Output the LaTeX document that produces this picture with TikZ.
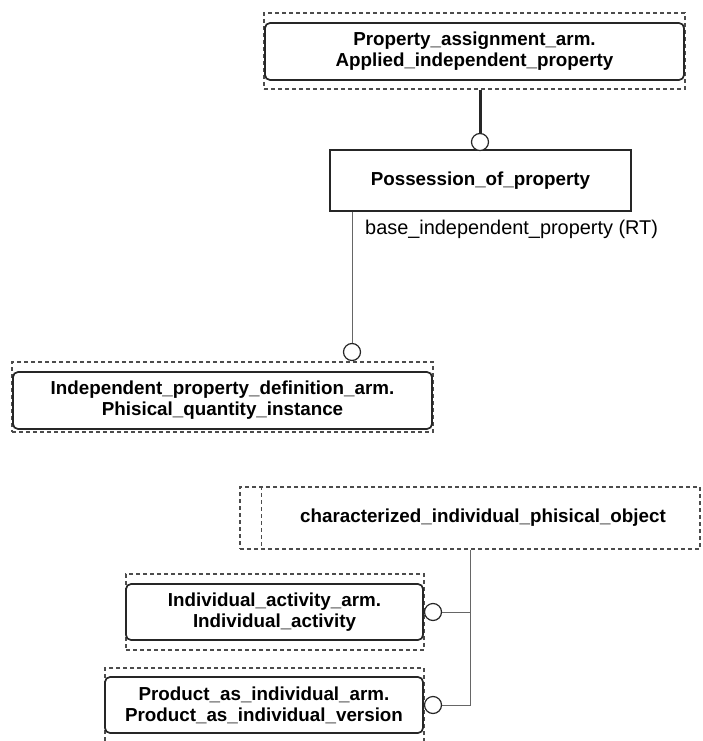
\documentclass[tikz,border=0pt]{standalone}
\usepackage{fontspec}
\setmainfont{Liberation Sans}
\usetikzlibrary{calc}
\begin{document}
\begin{tikzpicture}[x=1pt,y=-1pt,
  armbox/.style={draw=black!85, line width=1.7pt, rounded corners=5pt, inner sep=0pt, align=center, font=\fontsize{18.8}{21}\selectfont\bfseries},
  outerbox/.style={draw=black!70, line width=1.2pt, dash pattern=on 4pt off 3pt, inner sep=0pt},
  entbox/.style={draw=black!85, line width=1.3pt, inner sep=0pt, font=\fontsize{18.8}{21}\selectfont\bfseries},
  ring/.style={circle, draw=black!85, line width=1.2pt, fill=white, minimum size=17pt, inner sep=0pt},
  thinline/.style={draw=black!60, line width=0.8pt},
  thickline/.style={draw=black!85, line width=3pt},
  lbl/.style={font=\fontsize{19.9}{21}\selectfont, inner sep=0pt}]
\useasboundingbox (0,0) rectangle (702,741);
\begin{scope}
\clip (0,0) rectangle (702,741);
% top
\node[outerbox, minimum width=421pt, minimum height=76pt] (pao) at (474.5,51) {};
\node[armbox, minimum width=419pt, minimum height=57pt] (pa) at (474.5,51.5) {Property\_assignment\_arm.\\Applied\_independent\_property};
% possession
\node[entbox, minimum width=301pt, minimum height=61pt] (pp) at (480.5,180.5) {Possession\_of\_property};
\node[lbl, anchor=west] (attr) at (365,229) {base\_independent\_property (RT)};
% independent property
\node[outerbox, minimum width=421pt, minimum height=70pt] (ipo) at (222.5,397) {};
\node[armbox, minimum width=419pt, minimum height=57pt] (ip) at (222.5,400.5) {Independent\_property\_definition\_arm.\\Phisical\_quantity\_instance};
% characterized
\node[outerbox, minimum width=460pt, minimum height=62pt] (cio) at (470,518) {};
\draw[outerbox] ($(cio.north west)+(22,0)$) -- ($(cio.south west)+(22,0)$);
\node[entbox, draw=none] (cit) at (483,518) {characterized\_individual\_phisical\_object};
% individual activity
\node[outerbox, minimum width=298pt, minimum height=76pt] (iao) at (275,612) {};
\node[armbox, minimum width=297pt, minimum height=56pt] (ia) at (274.5,612) {Individual\_activity\_arm.\\Individual\_activity};
% product
\node[outerbox, minimum width=319pt, minimum height=84pt] (pio) at (264.5,710) {};
\node[armbox, minimum width=318pt, minimum height=56pt] (pi) at (264,705) {Product\_as\_individual\_arm.\\Product\_as\_individual\_version};
% rings
\node[ring] (c1) at (480,142) {};
\node[ring] (c2) at (352,352) {};
\node[ring] (c3) at (433,612) {};
\node[ring] (c4) at (433,705) {};
% connectors
\draw[thickline] (pao.south -| c1) -- (c1.north);
\draw[thinline] (pp.south -| c2) -- (c2.north);
\coordinate (bus) at (470,549);
\draw[thinline] (bus |- cio.south) -- (bus |- c4) -- (c4.east);
\draw[thinline] (c3.east) -- (bus |- c3);
\end{scope}
\end{tikzpicture}
\end{document}
